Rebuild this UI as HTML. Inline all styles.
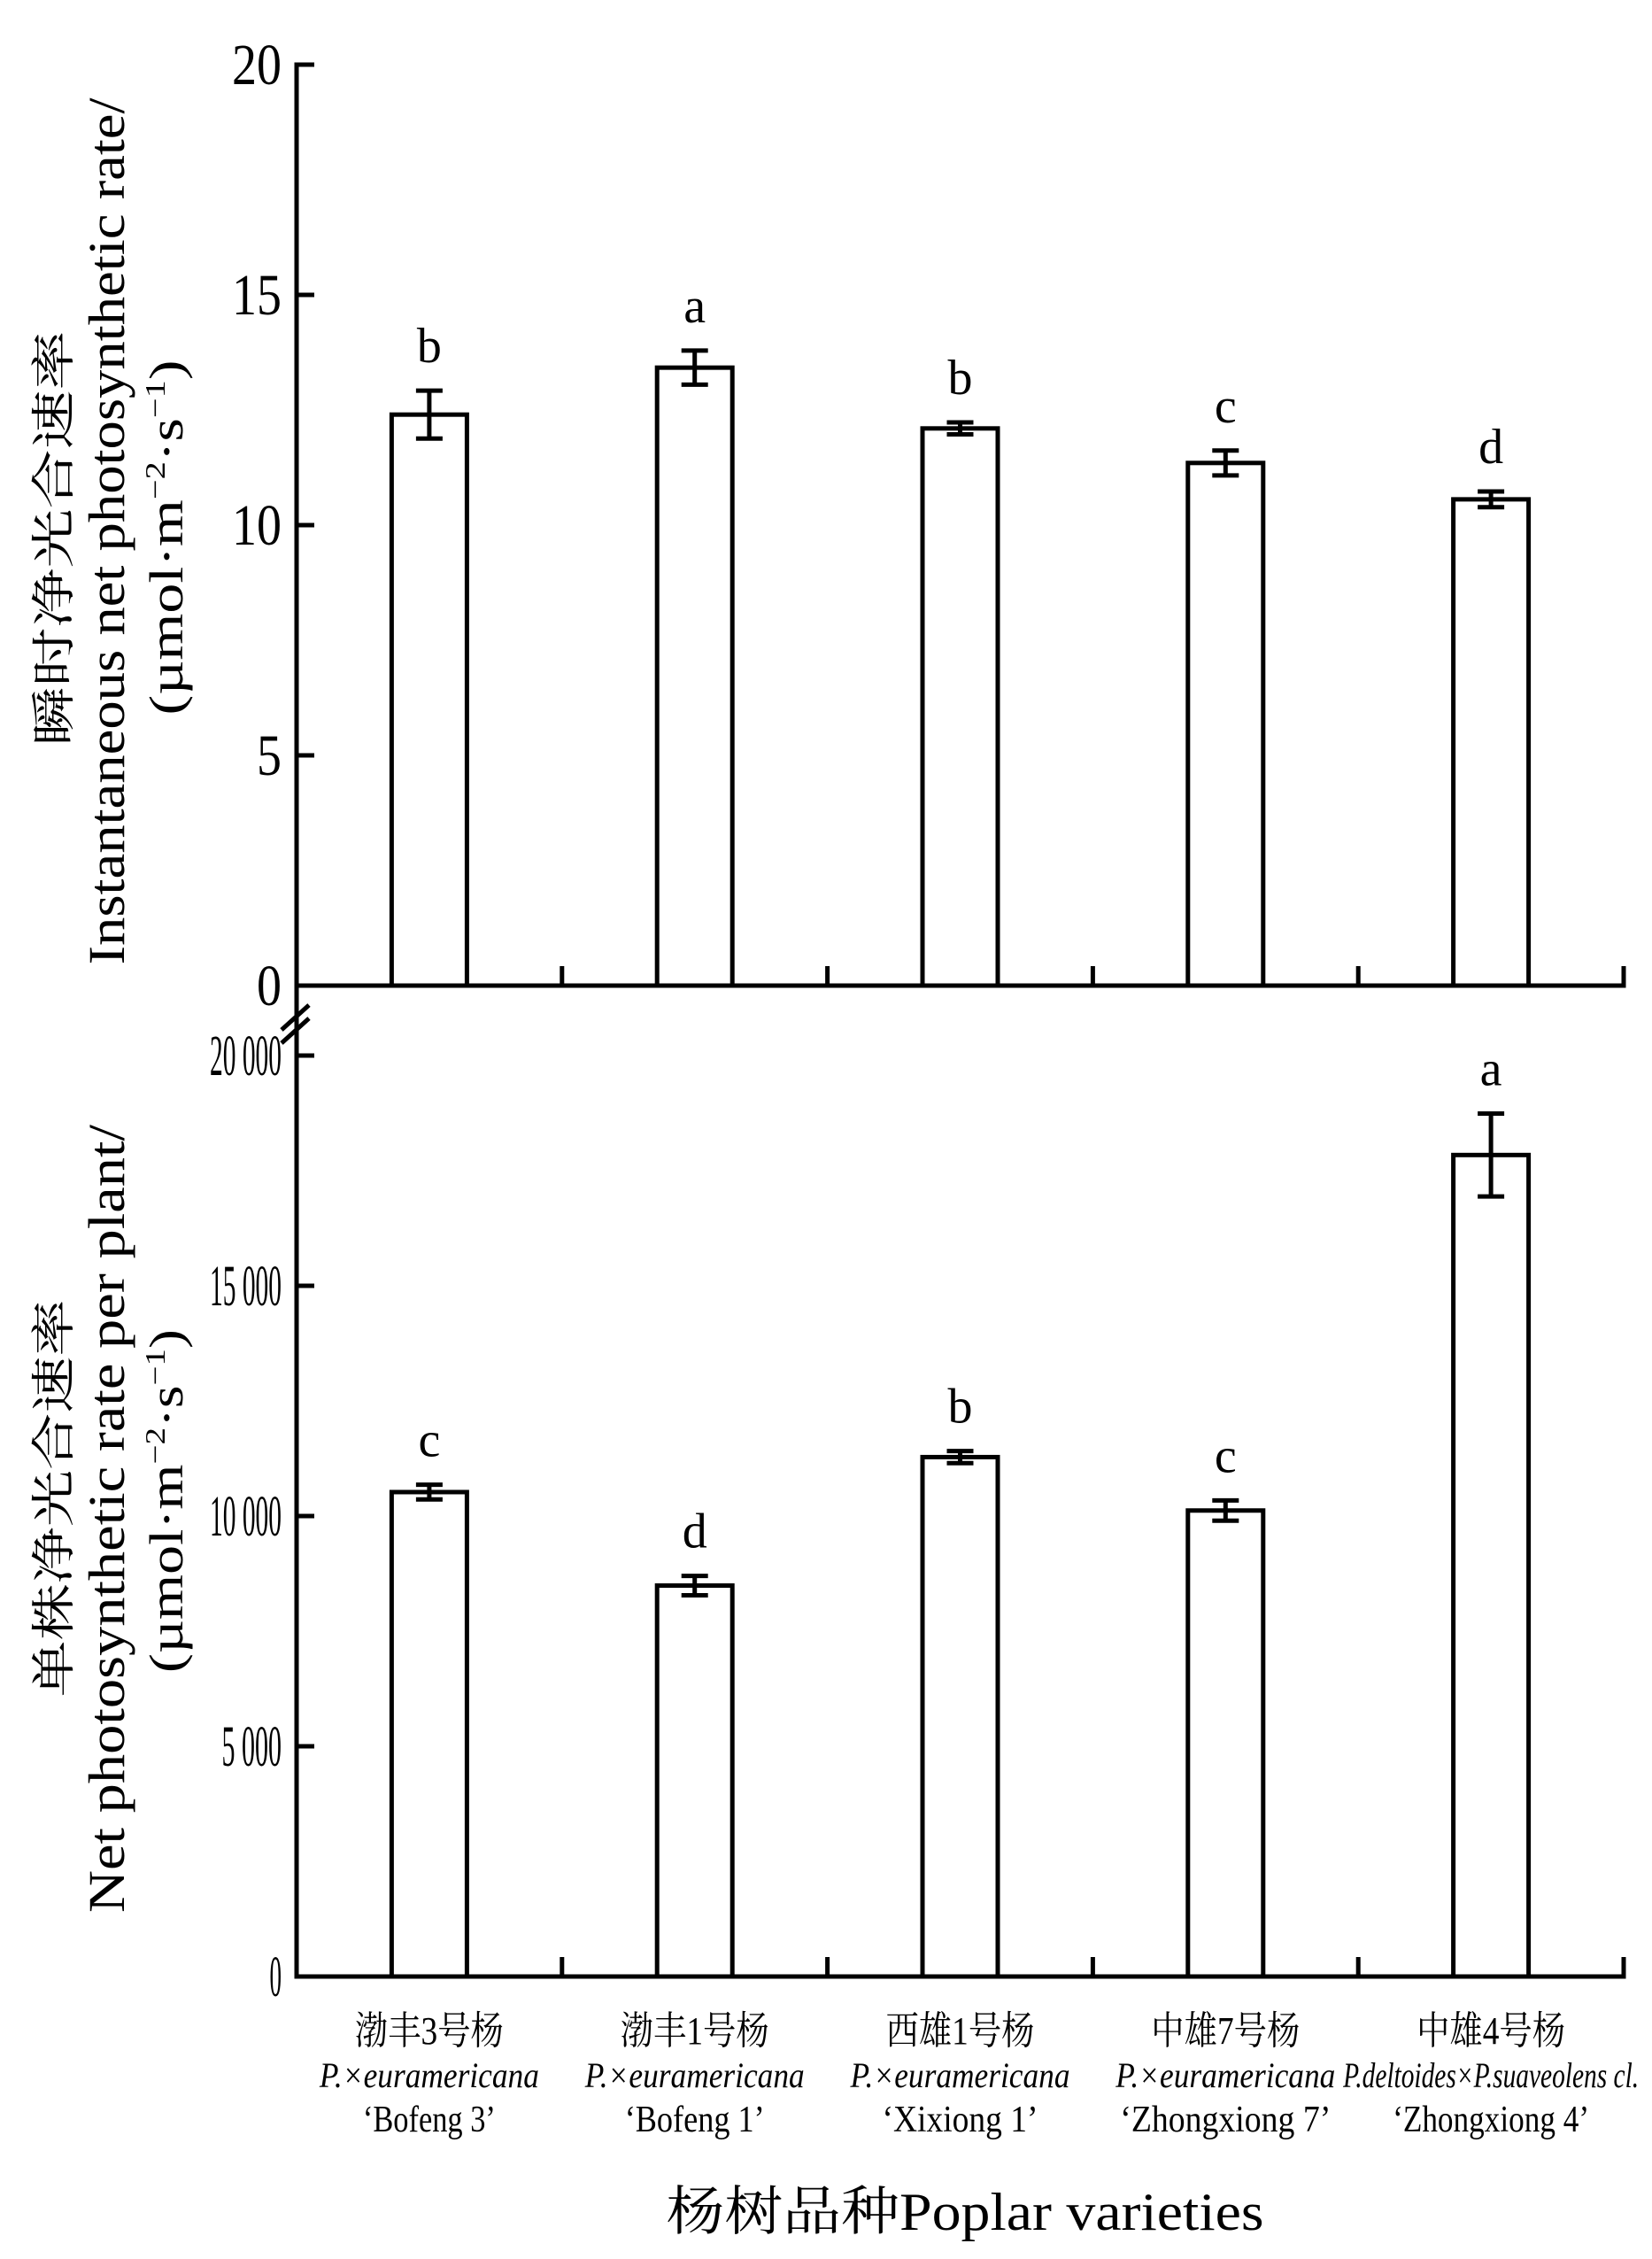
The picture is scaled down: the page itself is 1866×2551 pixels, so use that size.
<!DOCTYPE html>
<html><head><meta charset="utf-8"><style>
html,body{margin:0;padding:0;background:#fff;}
svg{display:block;}
text{font-family:"Liberation Serif","Noto Serif CJK SC","Noto Sans CJK SC",serif;fill:#000;}
</style></head><body>
<svg id="chart" width="1866" height="2551" viewBox="0 0 1866 2551" xmlns="http://www.w3.org/2000/svg">
<g id="g-top"></g>
<g id="g-bot"></g>
<g id="g-axes"></g>
<g id="g-xlab"></g>
<!-- y titles -->
<text transform="translate(78,608) rotate(-90)" text-anchor="middle" font-size="50" textLength="469" lengthAdjust="spacingAndGlyphs" font-family="Noto Serif CJK SC, Noto Sans CJK SC, serif">瞬时净光合速率</text>
<text transform="translate(140,600) rotate(-90)" text-anchor="middle" font-size="58" textLength="979" lengthAdjust="spacingAndGlyphs">Instantaneous net photosynthetic rate/</text>
<text transform="translate(206,607) rotate(-90)" text-anchor="middle" font-size="54" textLength="401" lengthAdjust="spacingAndGlyphs">(µmol·m<tspan font-size="32" dy="-20">−2</tspan><tspan dy="20">·s</tspan><tspan font-size="32" dy="-20">−1</tspan><tspan dy="20">)</tspan></text>
<text transform="translate(78,1692) rotate(-90)" text-anchor="middle" font-size="50" textLength="449" lengthAdjust="spacingAndGlyphs" font-family="Noto Serif CJK SC, Noto Sans CJK SC, serif">单株净光合速率</text>
<text transform="translate(140,1715) rotate(-90)" text-anchor="middle" font-size="58" textLength="890" lengthAdjust="spacingAndGlyphs">Net photosynthetic rate per plant/</text>
<text transform="translate(206,1695) rotate(-90)" text-anchor="middle" font-size="54" textLength="388" lengthAdjust="spacingAndGlyphs">(µmol·m<tspan font-size="32" dy="-20">−2</tspan><tspan dy="20">·s</tspan><tspan font-size="32" dy="-20">−1</tspan><tspan dy="20">)</tspan></text>
<text x="1090" y="2518" text-anchor="middle" font-size="60" textLength="675" lengthAdjust="spacingAndGlyphs">杨树品种Poplar varieties</text>
</svg>
<script>
const categoriesCn = ["渤丰3号杨","渤丰1号杨","西雄1号杨","中雄7号杨","中雄4号杨"];
const categoriesSp = ["P.×euramericana","P.×euramericana","P.×euramericana","P.×euramericana","P.deltoides×P.suaveolens cl."];
const categoriesCv = ["‘Bofeng 3’","‘Bofeng 1’","‘Xixiong 1’","‘Zhongxiong 7’","‘Zhongxiong 4’"];
const topValues = [12.4, 13.42, 12.1, 11.35, 10.56];
const topErrors = [0.52, 0.37, 0.13, 0.27, 0.17];
const topLetters = ["b","a","b","c","d"];
const topTicks = [0, 5, 10, 15, 20];
const topTickLabels = ["0","5","10","15","20"];
const botValues = [10520, 8490, 11280, 10120, 17840];
const botErrors = [160, 210, 130, 220, 900];
const botLetters = ["c","d","b","c","a"];
const botTicks = [0, 5000, 10000, 15000, 20000];
const botTickLabels = ["0","5 000","10 000","15 000","20 000"];

const NS = "http://www.w3.org/2000/svg";
const X0 = 335, X1 = 1834, BAND = (X1 - X0) / categoriesCn.length, BARW = 85;
const yTop = v => 1113 - v * (1113 - 73) / 20;
const yBot = v => 2232 - v * (2232 - 1192) / 20000;
const xC = i => X0 + BAND * (i + 0.5);
function mk(tag, attrs, parent){ const e=document.createElementNS(NS,tag); for(const k in attrs) e.setAttribute(k,attrs[k]); parent.appendChild(e); return e; }

function panel(g, vals, errs, letters, ys, ticks, tlabels, condensed, pfx){
  vals.forEach((v,i)=>{
    const cx = xC(i);
    const r = mk("rect",{x:cx-BARW/2,y:ys(v),width:BARW,height:ys(0)-ys(v),fill:"#fff",stroke:"#000","stroke-width":5},g);
    
    
    const hi = ys(v+errs[i]), lo = ys(v-errs[i]);
    const eb = mk("path",{d:`M${cx},${hi}V${lo}M${cx-15},${hi}H${cx+15}M${cx-15},${lo}H${cx+15}`,stroke:"#000","stroke-width":5,fill:"none"},g);
    
    
    const t = mk("text",{x:cx,y:hi-32,"text-anchor":"middle","font-size":56},g);
    t.textContent = letters[i];
    
    
  });
  ticks.forEach((v,i)=>{
    const tk = mk("line",{x1:X0,x2:X0+20,y1:ys(v),y2:ys(v),stroke:"#000","stroke-width":5},g);
    
    
    const lbl = tlabels[i];
    const t = mk("text",{x:318,y:ys(v)+22,"text-anchor":"end","font-size":66},g);
    if(condensed){ t.setAttribute("textLength", lbl.length*13.5); t.setAttribute("lengthAdjust","spacingAndGlyphs"); }
    else { t.setAttribute("textLength", lbl.length*28); t.setAttribute("lengthAdjust","spacingAndGlyphs"); }
    t.textContent = lbl;
    
    
  });
  for(let i=1;i<=categoriesCn.length;i++){
    const x = X0 + BAND*i;
    const tk = mk("line",{x1:x,x2:x,y1:ys(0),y2:ys(0)-22,stroke:"#000","stroke-width":5},g);
    
    
  }
  const ax = mk("line",{x1:X0-2.5,x2:X1+2.5,y1:ys(0),y2:ys(0),stroke:"#000","stroke-width":5},g);
  
  
}
panel(document.getElementById("g-top"), topValues, topErrors, topLetters, yTop, topTicks, topTickLabels, false, "top");
panel(document.getElementById("g-bot"), botValues, botErrors, botLetters, yBot, botTicks, botTickLabels, true, "bottom");

const ga = document.getElementById("g-axes");
const yax = mk("line",{x1:X0,x2:X0,y1:73-2.5,y2:2234.5,stroke:"#000","stroke-width":5},ga);


const br = mk("path",{d:"M318,1163L349,1135M318,1178L349,1150",stroke:"#000","stroke-width":5,fill:"none"},ga);



const gx = document.getElementById("g-xlab");
const spW = [248,248,248,248,334];
const cvW = [150,158,176,238,222];
categoriesCn.forEach((c,i)=>{
  const cx = xC(i);
  const a = mk("text",{x:cx,y:2308,"text-anchor":"middle","font-size":44,textLength:168,lengthAdjust:"spacingAndGlyphs"},gx);
  a.textContent = c;
  
  
  const b = mk("text",{x:cx,y:2357,"text-anchor":"middle","font-size":40,"font-style":"italic",textLength:spW[i],lengthAdjust:"spacingAndGlyphs"},gx);
  b.textContent = categoriesSp[i];
  
  
  const d = mk("text",{x:cx,y:2407,"text-anchor":"middle","font-size":42,textLength:cvW[i],lengthAdjust:"spacingAndGlyphs"},gx);
  d.textContent = categoriesCv[i];
  
  
});
</script>
</body></html>
